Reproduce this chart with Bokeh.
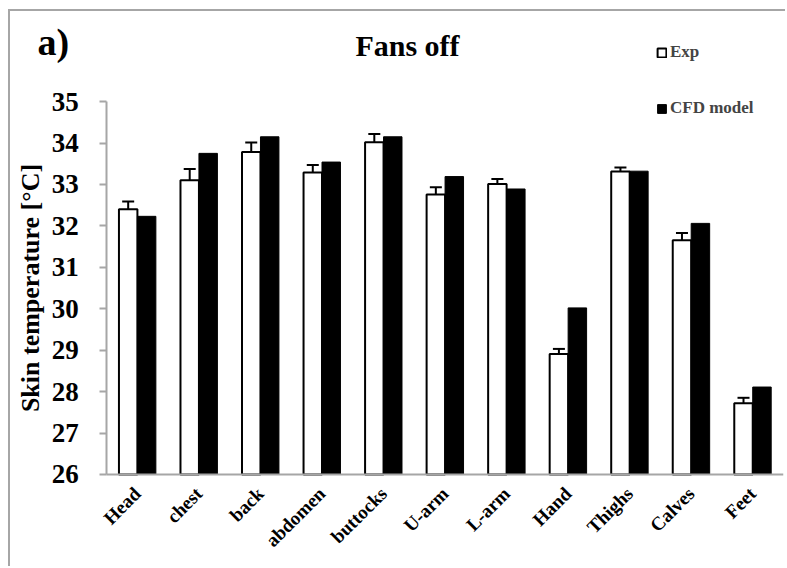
from bokeh.plotting import figure
from bokeh.models import (ColumnDataSource, Range1d, FixedTicker, Whisker,
                          Legend, LegendItem, Label)
from bokeh.transform import dodge
from bokeh.embed import file_html
from bokeh.resources import INLINE
import math

# Body segments and skin temperatures (°C)
segments = ["Head", "chest", "back", "abdomen", "buttocks", "U-arm",
            "L-arm", "Hand", "Thighs", "Calves", "Feet"]
exp_mean = [32.40, 33.10, 33.78, 33.29, 34.02, 32.76, 33.01, 28.91, 33.31, 31.65, 27.72]
exp_err = [0.19, 0.27, 0.23, 0.18, 0.20, 0.17, 0.12, 0.12, 0.10, 0.18, 0.13]
cfd_model = [32.23, 33.75, 34.15, 33.54, 34.15, 33.19, 32.89, 30.02, 33.32, 32.06, 28.11]
y_ticks = [26, 27, 28, 29, 30, 31, 32, 33, 34, 35]

FONT = "Liberation Serif"
GREY = "#a6a6a6"

n = len(segments)
centers = [i + 0.5 for i in range(n)]          # one unit per body segment

src = ColumnDataSource(dict(
    x=centers,
    exp=exp_mean,
    cfd=cfd_model,
    upper=[m + e for m, e in zip(exp_mean, exp_err)],
    lower=[m - e for m, e in zip(exp_mean, exp_err)],
))

# The frame spans the whole chart (header and axis labels included); both
# axes are pinned to the data region and bounded to it.
p = figure(
    x_range=Range1d(-1.53, n),
    y_range=Range1d(23.73, 37.15),
    width=777, height=557,
    min_border_left=2, min_border_right=4, min_border_top=1, min_border_bottom=0,
    output_backend="svg", toolbar_location=None,
)
p.styles = {
    "margin-left": "8px", "margin-top": "9px",
    "border-left": f"2px solid {GREY}", "border-top": f"2px solid {GREY}",
}
p.outline_line_color = None
p.xgrid.visible = False
p.ygrid.visible = False
p.background_fill_color = "white"
p.border_fill_color = "white"

exp_r = p.vbar(x=dodge("x", -0.15), top="exp", bottom=y_ticks[0], width=0.3,
               source=src, fill_color="white", line_color="black", line_width=2)
cfd_r = p.vbar(x=dodge("x", 0.15), top="cfd", bottom=y_ticks[0], width=0.3,
               source=src, fill_color="black", line_color="black", line_width=1)

wh = Whisker(base=dodge("x", -0.15), upper="upper", lower="lower",
             source=src, line_color="black", line_width=2)
for head in (wh.upper_head, wh.lower_head):
    head.size = 12
    head.line_width = 2
    head.line_color = "black"
p.add_layout(wh)

# value axis
ya = p.yaxis[0]
ya.fixed_location = 0
ya.bounds = (y_ticks[0], y_ticks[-1])
ya.ticker = FixedTicker(ticks=y_ticks)
ya.axis_label = "Skin temperature [°C]"
ya.axis_label_text_font = FONT
ya.axis_label_text_font_style = "bold"
ya.axis_label_text_font_size = "26px"
ya.axis_label_text_color = "black"
ya.axis_label_standoff = 4
ya.major_label_text_font = FONT
ya.major_label_text_font_style = "bold"
ya.major_label_text_font_size = "27px"
ya.major_label_text_color = "black"
ya.major_label_standoff = 21
ya.axis_line_color = GREY
ya.axis_line_width = 2
ya.major_tick_line_color = GREY
ya.major_tick_line_width = 2
ya.major_tick_out = 7
ya.major_tick_in = 0
ya.minor_tick_line_color = None

# segment axis
xa = p.xaxis[0]
xa.fixed_location = y_ticks[0]
xa.bounds = (0, n)
xa.ticker = FixedTicker(ticks=centers)
xa.major_label_overrides = {c: s for c, s in zip(centers, segments)}
xa.major_label_orientation = math.pi / 4
xa.major_label_text_font = FONT
xa.major_label_text_font_style = "bold"
xa.major_label_text_font_size = "19px"
xa.major_label_text_color = "black"
xa.major_label_standoff = 10
xa.axis_line_color = GREY
xa.axis_line_width = 2
xa.major_tick_line_color = None
xa.minor_tick_line_color = None

# Title and panel tag
p.add_layout(Label(x=395, y=507, x_units="screen", y_units="screen", text="Fans off",
                   text_align="center", text_font=FONT, text_font_style="bold",
                   text_font_size="30px", text_color="black"))
p.add_layout(Label(x=25, y=506, x_units="screen", y_units="screen", text="a)",
                   text_align="left", text_font=FONT, text_font_style="bold",
                   text_font_size="38px", text_color="black"))

legend = Legend(
    items=[LegendItem(label="Exp", renderers=[exp_r]),
           LegendItem(label="CFD model", renderers=[cfd_r])],
    location=(644, 450), orientation="vertical",
    padding=0, margin=0, spacing=36, label_height=20, glyph_height=11, glyph_width=11,
    label_standoff=3, background_fill_alpha=0, border_line_alpha=0,
    label_text_font=FONT, label_text_font_style="bold", label_text_font_size="17px",
)
p.add_layout(legend, "center")

open("out.html", "w").write(file_html(p, INLINE))
